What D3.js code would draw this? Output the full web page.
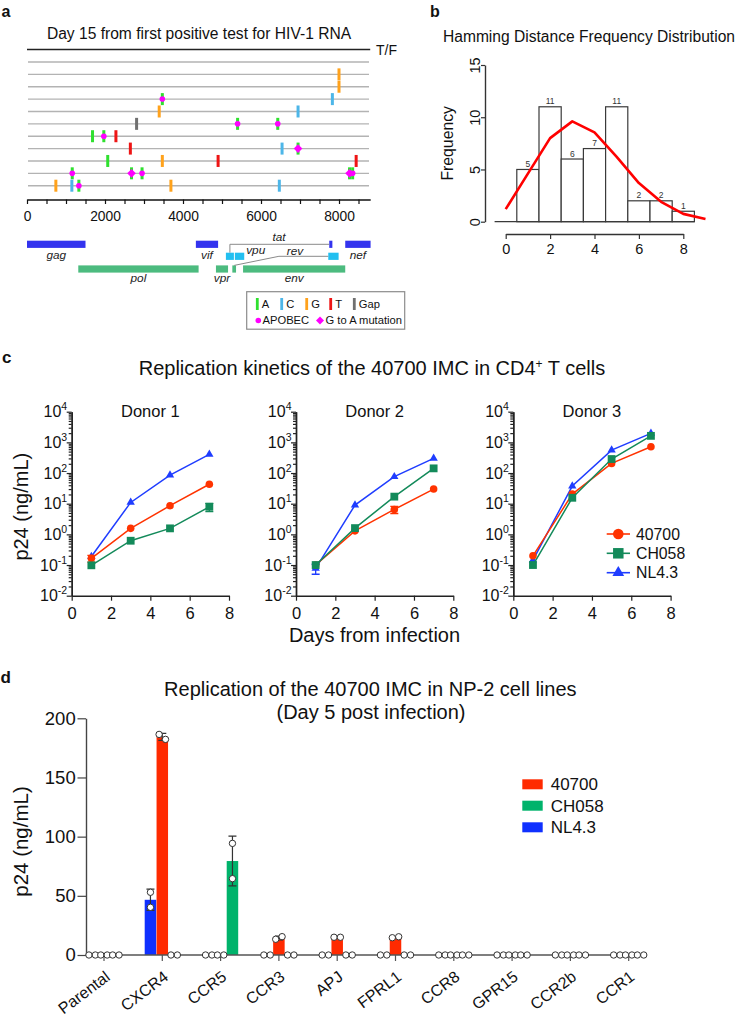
<!DOCTYPE html>
<html><head><meta charset="utf-8">
<script src="https://cdn.jsdelivr.net/npm/d3@7"></script>
<style>body{margin:0;background:#fff}svg{display:block;font-family:"Liberation Sans",Arial,Helvetica,sans-serif}</style>
</head><body><svg id="fig" width="738" height="1017"></svg>
<script>
// ===== Panel a data =====
const genomeTicks = d3.range(0, 8801, 500);
const genomeTickLabels = [0, 2000, 4000, 6000, 8000];
const sequenceRows = d3.range(0, 11);
// [row, genome position, base, extra mark]
const mutations = [
  [1, 8000, 'G', ''], [2, 8000, 'G', ''],
  [3, 3470, 'A', 'apobec'], [3, 7830, 'C', ''],
  [4, 3390, 'G', ''], [4, 6950, 'C', ''],
  [5, 2810, 'Gap', ''], [5, 5400, 'A', 'apobec'], [5, 6430, 'A', 'apobec'],
  [6, 1680, 'A', ''], [6, 1970, 'A', 'apobec'], [6, 2280, 'T', ''],
  [7, 2650, 'T', ''], [7, 6540, 'C', ''], [7, 6950, 'A', 'g2a'],
  [8, 2070, 'A', ''], [8, 3470, 'G', ''], [8, 4900, 'T', ''], [8, 8440, 'T', ''],
  [9, 1160, 'A', 'apobec'], [9, 2680, 'A', 'g2a'], [9, 2950, 'A', 'apobec'], [9, 8270, 'A', 'g2a'], [9, 8350, 'A', 'apobec'],
  [10, 740, 'G', ''], [10, 1150, 'C', ''], [10, 1330, 'A', 'apobec'], [10, 3690, 'G', ''], [10, 6470, 'C', '']
];
// [name, start, end, track, show label]
const genes = [
  ['gag', 0, 1500, 0, 1], ['vif', 4330, 4900, 0, 1], ['tat', 7750, 7830, 0, 0], ['nef', 8160, 8810, 0, 1],
  ['tat', 5100, 5305, 1, 0], ['vpu', 5330, 5570, 1, 0], ['rev', 7725, 7990, 1, 0],
  ['pol', 1315, 4400, 2, 1], ['vpr', 4845, 5155, 2, 1], ['rev', 5265, 5360, 2, 0], ['env', 5540, 8160, 2, 1]
];
// split-gene labels [name, genome position]
const splitGeneLabels = [['tat', 6460], ['vpu', 5865], ['rev', 6870]];
const legendBases = ['A', 'C', 'G', 'T', 'Gap'];

// ===== Panel b data =====
const hdBins = [1, 2, 3, 4, 5, 6, 7, 8];
const hdFreq = [5, 11, 6, 7, 11, 2, 2, 1];
const hdCurveX = [0, 1, 2, 3, 4, 5, 6, 7, 8, 9];
const hdCurveY = [1.2, 4.6, 8.0, 9.6, 8.55, 6.2, 3.7, 1.9, 0.75, 0.26];
const hdXTicks = [0, 2, 4, 6, 8];
const hdYTicks = [0, 5, 10, 15];

// ===== Panel c data =====
const days = [1, 3, 5, 7];
const kinSeries = ['40700', 'CH058', 'NL4.3'];
const donorNames = ['Donor 1', 'Donor 2', 'Donor 3'];
const d1_40700 = [0.165, 1.57, 8.6, 43];
const d1_CH058 = [0.098, 0.62, 1.57, 7.9];
const d1_NL43 = [0.19, 11, 86, 405];
const d2_40700 = [0.1, 1.3, 6.5, 30];
const d2_CH058 = [0.1, 1.6, 17, 142];
const d2_NL43 = [0.078, 9, 76, 300];
const d3_40700 = [0.2, 20.6, 206, 720];
const d3_CH058 = [0.1, 15.6, 286, 1630];
const d3_NL43 = [0.145, 37.6, 560, 1960];
const d1_40700_sd = [0.04, 0, 0, 0];
const d1_CH058_sd = [0, 0, 0, 2.4];
const d2_40700_sd = [0, 0, 1.7, 0];
const d2_NL43_sd = [0.028, 0, 0, 0];
const kinXTicks = [0, 2, 4, 6, 8];
const kinYDecades = [-2, -1, 0, 1, 2, 3, 4];

// ===== Panel d data =====
const cellLines = ['Parental', 'CXCR4', 'CCR5', 'CCR3', 'APJ', 'FPRL1', 'CCR8', 'GPR15', 'CCR2b', 'CCR1'];
const npSeriesOrder = ['NL4.3', '40700', 'CH058'];
const np_NL43 = [[0, 0], [53, 40.3], [0, 0], [0, 0], [0, 0], [0, 0], [0, 0], [0, 0], [0, 0], [0, 0]];
const np_40700 = [[0, 0], [186.4, 182.2], [0, 0], [13.3, 15.5], [15, 15], [14.6, 15.4], [0, 0], [0, 0], [0, 0], [0, 0]];
const np_CH058 = [[0, 0], [0, 0], [94.3, 64.5], [0, 0], [0, 0], [0, 0], [0, 0], [0, 0], [0, 0], [0, 0]];
const npYTicks = [0, 50, 100, 150, 200];
const npLegend = ['40700', 'CH058', 'NL4.3'];

// ===== styles =====
const baseColor = {A: '#2fe02f', C: '#4db6e8', G: '#ffa21c', T: '#ee1515', Gap: '#707070'};
const trackColor = ['#3333ee', '#22bff0', '#4cbb7f'];
const kinColor = {'40700': '#ff3300', 'CH058': '#138a5a', 'NL4.3': '#1f3dff'};
const npColor = {'40700': '#ff2a00', 'CH058': '#00b36b', 'NL4.3': '#0f30ff'};
const MAG = '#ff00ff';

const svg = d3.select('#fig');
function txt(g, x, y, s, size, opts = {}) {
  const t = g.append('text').attr('x', x).attr('y', y).attr('font-size', size).text(s);
  if (opts.anchor) t.attr('text-anchor', opts.anchor);
  if (opts.weight) t.attr('font-weight', opts.weight);
  if (opts.style) t.attr('font-style', opts.style);
  t.attr('fill', opts.fill || '#111');
  return t;
}
function styleAxis(g, size, color) {
  g.selectAll('text').attr('font-size', size).attr('fill', '#111').attr('font-family', null);
  g.attr('font-family', null);
  g.selectAll('path.domain').attr('stroke', color || '#111').attr('stroke-width', 1.4);
  g.selectAll('.tick line').attr('stroke', color || '#111').attr('stroke-width', 1.2);
}

// panel labels
txt(svg, 1.5, 16.7, 'a', 16, {weight: 'bold'});
txt(svg, 430, 16.7, 'b', 16, {weight: 'bold'});
txt(svg, 2, 363.3, 'c', 17, {weight: 'bold'});
txt(svg, 0.5, 683.3, 'd', 17, {weight: 'bold'});

// ===================== Panel a =====================
{
  const g = svg.append('g');
  const x = d3.scaleLinear().domain([0, 8800]).range([27, 370.2]);
  const y = d3.scaleLinear().domain([0, 10]).range([62, 185.7]);
  txt(g, 199, 39, 'Day 15 from first positive test for HIV-1 RNA', 15.6, {anchor: 'middle'});
  g.append('line').attr('x1', x(0)).attr('x2', x(8800)).attr('y1', 49.5).attr('y2', 49.5).attr('stroke', '#222').attr('stroke-width', 1.7);
  txt(g, 376, 55, 'T/F', 14);
  g.selectAll('line.seq').data(sequenceRows).join('line').attr('class', 'seq')
    .attr('x1', 28).attr('x2', 369).attr('y1', d => y(d)).attr('y2', d => y(d))
    .attr('stroke', '#b3b3b3').attr('stroke-width', 1.4);
  g.selectAll('rect.mut').data(mutations).join('rect').attr('class', 'mut')
    .attr('x', d => x(d[1]) - 1.5).attr('width', 3).attr('y', d => y(d[0]) - 6).attr('height', 12)
    .attr('fill', d => baseColor[d[2]]);
  g.selectAll('circle.apo').data(mutations.filter(d => d[3] === 'apobec')).join('circle').attr('class', 'apo')
    .attr('cx', d => x(d[1])).attr('cy', d => y(d[0])).attr('r', 2.8).attr('fill', MAG);
  g.selectAll('path.g2a').data(mutations.filter(d => d[3] === 'g2a')).join('path').attr('class', 'g2a')
    .attr('transform', d => `translate(${x(d[1])},${y(d[0])})`).attr('d', 'M0,-4.3L4.3,0L0,4.3L-4.3,0Z').attr('fill', MAG);
  const ax = g.append('g').attr('transform', 'translate(0,199.5)')
    .call(d3.axisBottom(x).tickValues(genomeTicks).tickSize(4.5).tickSizeOuter(0).tickPadding(7.5)
      .tickFormat(d => genomeTickLabels.includes(d) ? d : ''));
  styleAxis(ax, 13.8);
  ax.select('path.domain').attr('stroke-width', 1.7);
  // genes
  const trackY = [244.3, 256.3, 269];
  g.selectAll('rect.gene').data(genes).join('rect').attr('class', 'gene')
    .attr('x', d => x(d[1])).attr('width', d => x(d[2]) - x(d[1]))
    .attr('y', d => trackY[d[3]] - 3.6).attr('height', 7.2).attr('fill', d => trackColor[d[3]]);
  const labBase = [258.5, 0, 281.5];
  genes.filter(d => d[4]).forEach(d => {
    txt(g, x((d[1] + d[2]) / 2), labBase[d[3]], d[0], 11.8, {anchor: 'middle', style: 'italic', fill: '#222'});
  });
  const splitBase = {tat: 241, vpu: 254, rev: 254.5};
  splitGeneLabels.forEach(d => txt(g, x(d[1]), splitBase[d[0]], d[0], 11.8, {anchor: 'middle', style: 'italic', fill: '#222'}));
  const tat = genes.filter(d => d[0] === 'tat');
  const rev = genes.filter(d => d[0] === 'rev');
  g.append('path').attr('d', `M${x((tat[1][1] + tat[1][2]) / 2)},${trackY[1] - 3.6}V${trackY[0]}H${x(tat[0][1])}`)
    .attr('fill', 'none').attr('stroke', '#8a8a8a').attr('stroke-width', 1);
  g.append('path').attr('d', `M${x((rev[1][1] + rev[1][2]) / 2)},${trackY[2] - 3.6}L${x(6460)},${trackY[1]}H${x(rev[0][1])}`)
    .attr('fill', 'none').attr('stroke', '#8a8a8a').attr('stroke-width', 1);
  // legend
  g.append('rect').attr('x', 246.7).attr('y', 291.7).attr('width', 158).attr('height', 37.5)
    .attr('fill', 'none').attr('stroke', '#8c8c8c').attr('stroke-width', 1.2);
  const lx = [257.3, 281.7, 306.7, 330.7, 354.3];
  legendBases.forEach((b, i) => {
    g.append('rect').attr('x', lx[i] - 1.4).attr('y', 298).attr('width', 2.8).attr('height', 12).attr('fill', baseColor[b]);
    txt(g, lx[i] + 4.5, 308, b, 11.2, {});
  });
  g.append('circle').attr('cx', 258.3).attr('cy', 320.5).attr('r', 2.8).attr('fill', MAG);
  txt(g, 262.5, 324.3, 'APOBEC', 11.2, {});
  g.append('path').attr('transform', 'translate(320,320.5)').attr('d', 'M0,-4L4,0L0,4L-4,0Z').attr('fill', MAG);
  txt(g, 325.5, 324.3, 'G to A mutation', 11.2, {});
}

// ===================== Panel b =====================
{
  const g = svg.append('g');
  const x = d3.scaleLinear().domain([0, 8]).range([505.7, 683.3]);
  const y = d3.scaleLinear().domain([0, 15]).range([221.7, 65]);
  txt(g, 589, 42, 'Hamming Distance Frequency Distribution', 15.6, {anchor: 'middle'});
  g.selectAll('rect.bar').data(hdBins).join('rect').attr('class', 'bar')
    .attr('x', d => x(d - 0.5)).attr('width', d => x(d + 0.5) - x(d - 0.5))
    .attr('y', (d, i) => y(hdFreq[i])).attr('height', (d, i) => y(0) - y(hdFreq[i]))
    .attr('fill', '#fff').attr('stroke', '#3a3a3a').attr('stroke-width', 1.2);
  g.append('line').attr('x1', x(-0.5)).attr('x2', x(8.5)).attr('y1', y(0)).attr('y2', y(0)).attr('stroke', '#3a3a3a').attr('stroke-width', 1.2);
  hdBins.forEach((d, i) => txt(g, x(d), y(hdFreq[i]) - 2.5, hdFreq[i], 8.5, {anchor: 'middle', fill: '#333'}));
  g.append('path').datum(hdCurveX.map((d, i) => [d, hdCurveY[i]]))
    .attr('d', d3.line().x(d => x(d[0])).y(d => y(d[1])))
    .attr('fill', 'none').attr('stroke', '#ff0000').attr('stroke-width', 2.6).attr('stroke-linejoin', 'round');
  const ax = g.append('g').attr('transform', 'translate(0,234)')
    .call(d3.axisBottom(x).tickValues(hdXTicks).tickSize(5).tickSizeOuter(0).tickPadding(4.8));
  styleAxis(ax, 14.5, '#333');
  const ay = g.append('g').attr('transform', 'translate(485,0)')
    .call(d3.axisLeft(y).tickValues(hdYTicks).tickSize(4).tickSizeOuter(0));
  styleAxis(ay, 14.5, '#333');
  ay.selectAll('text').attr('transform', 'rotate(-90)').attr('x', 0).attr('y', -5.5).attr('dy', null).attr('text-anchor', 'middle');
  g.append('text').attr('transform', 'translate(452.5,143.3) rotate(-90)').attr('text-anchor', 'middle')
    .attr('font-size', 15.8).attr('fill', '#111').text('Frequency');
}

// ===================== Panel c =====================
{
  const g = svg.append('g');
  const title = g.append('text').attr('x', 372).attr('y', 374.5).attr('text-anchor', 'middle').attr('font-size', 20).attr('fill', '#111');
  title.append('tspan').text('Replication kinetics of the 40700 IMC in CD4');
  title.append('tspan').attr('font-size', 12).attr('dy', -7).text('+');
  title.append('tspan').attr('dy', 7).text(' T cells');
  txt(g, 374.5, 642, 'Days from infection', 20, {anchor: 'middle'});
  g.append('text').attr('transform', 'translate(27.5,506.7) rotate(-90)').attr('text-anchor', 'middle')
    .attr('font-size', 20).attr('fill', '#111').text('p24 (ng/mL)');
  const origins = [71.7, 296, 513.3];
  const donorData = [
    {'40700': d1_40700, 'CH058': d1_CH058, 'NL4.3': d1_NL43},
    {'40700': d2_40700, 'CH058': d2_CH058, 'NL4.3': d2_NL43},
    {'40700': d3_40700, 'CH058': d3_CH058, 'NL4.3': d3_NL43}
  ];
  const donorSd = [
    {'40700': d1_40700_sd, 'CH058': d1_CH058_sd},
    {'40700': d2_40700_sd, 'NL4.3': d2_NL43_sd},
    {}
  ];
  const y = d3.scaleLog().domain([1e-2, 1e4]).range([595.7, 411.7]);
  const majors = kinYDecades.map(k => Math.pow(10, k));
  const minors = [];
  kinYDecades.slice(0, -1).forEach(k => d3.range(2, 10).forEach(m => minors.push(m * Math.pow(10, k))));
  const markerPath = (s, big) => {
    if (s === '40700') return d3.symbol(d3.symbolCircle, big ? 88 : 45)();
    if (s === 'CH058') return d3.symbol(d3.symbolSquare, big ? 110 : 61)();
    return d3.symbol(d3.symbolTriangle, big ? 60 : 30)();
  };
  origins.forEach((ox, di) => {
    const x = d3.scaleLinear().domain([0, 8]).range([ox, ox + 157.3]);
    const pg = g.append('g');
    txt(pg, x(4), 417.3, donorNames[di], 16.5, {anchor: 'middle'});
    const ay2 = pg.append('g').attr('transform', `translate(${ox},0)`)
      .call(d3.axisLeft(y).tickValues(minors).tickSize(3).tickSizeOuter(0).tickFormat(''));
    styleAxis(ay2, 12, '#222');
    const ay = pg.append('g').attr('transform', `translate(${ox},0)`)
      .call(d3.axisLeft(y).tickValues(majors).tickSize(5).tickSizeOuter(0).tickFormat(''));
    styleAxis(ay, 12, '#222');
    kinYDecades.forEach(k => {
      const t = pg.append('text').attr('x', ox - 4.5).attr('y', y(Math.pow(10, k)) + 5.5)
        .attr('text-anchor', 'end').attr('font-size', 16).attr('fill', '#111');
      t.append('tspan').text('10');
      t.append('tspan').attr('font-size', 10.5).attr('dy', -7).text(k < 0 ? '-' + (-k) : k);
    });
    const axx = pg.append('g').attr('transform', 'translate(0,595.7)')
      .call(d3.axisBottom(x).tickValues(kinXTicks).tickSize(5).tickSizeOuter(0).tickPadding(6.2));
    styleAxis(axx, 16.5, '#222');
    ['NL4.3', '40700', 'CH058'].forEach(s => {
      const vals = donorData[di][s];
      const sd = donorSd[di][s];
      const col = kinColor[s];
      if (sd) {
        days.forEach((d, i) => {
          if (!sd[i]) return;
          const lo = y(Math.max(vals[i] - sd[i], 1e-2)), hi = y(vals[i] + sd[i]);
          pg.append('path').attr('d', `M${x(d)},${hi}V${lo}M${x(d) - 4},${hi}H${x(d) + 4}M${x(d) - 4},${lo}H${x(d) + 4}`)
            .attr('stroke', col).attr('stroke-width', 1.3).attr('fill', 'none');
        });
      }
      pg.append('path').datum(vals).attr('d', d3.line().x((v, i) => x(days[i])).y(v => y(v)))
        .attr('fill', 'none').attr('stroke', col).attr('stroke-width', 1.5);
      pg.selectAll(null).data(vals).join('path')
        .attr('transform', (v, i) => `translate(${x(days[i])},${y(v)})`)
        .attr('d', markerPath(s, false)).attr('fill', col);
    });
  });
  // legend
  const ly = [534, 553.3, 572.7];
  kinSeries.forEach((s, i) => {
    g.append('line').attr('x1', 606.7).attr('x2', 630).attr('y1', ly[i]).attr('y2', ly[i]).attr('stroke', kinColor[s]).attr('stroke-width', 1.6);
    g.append('path').attr('transform', `translate(618.3,${ly[i]})`).attr('d', markerPath(s, true)).attr('fill', kinColor[s]);
    txt(g, 636, ly[i] + 5.6, s, 15.8, {});
  });
}

// ===================== Panel d =====================
{
  const g = svg.append('g');
  txt(g, 370.3, 695.7, 'Replication of the 40700 IMC in NP-2 cell lines', 20, {anchor: 'middle'});
  txt(g, 371, 719.3, '(Day 5 post infection)', 20, {anchor: 'middle'});
  g.append('text').attr('transform', 'translate(27.5,841.5) rotate(-90)').attr('text-anchor', 'middle')
    .attr('font-size', 20.5).attr('fill', '#111').text('p24 (ng/mL)');
  const x = d3.scalePoint().domain(cellLines).range([104, 628.7]);
  const sub = d3.scaleBand().domain(npSeriesOrder).range([-17.6, 17.6]).paddingInner(0.03);
  const y = d3.scaleLinear().domain([0, 200]).range([955, 718.3]);
  const seriesData = {'NL4.3': np_NL43, '40700': np_40700, 'CH058': np_CH058};
  // bars
  npSeriesOrder.forEach(s => {
    g.selectAll(null).data(seriesData[s].map((r, i) => ({c: cellLines[i], m: d3.mean(r)}))).join('rect')
      .attr('x', d => x(d.c) + sub(s)).attr('width', sub.bandwidth())
      .attr('y', d => y(d.m)).attr('height', d => y(0) - y(d.m)).attr('fill', npColor[s]);
  });
  // axes
  const ay = g.append('g').attr('transform', 'translate(86,0)')
    .call(d3.axisLeft(y).tickValues(npYTicks).tickSize(8.5).tickSizeOuter(0).tickPadding(1.8));
  styleAxis(ay, 18.5, '#444');
  g.append('line').attr('x1', 86).attr('x2', 645).attr('y1', 955).attr('y2', 955).attr('stroke', '#555').attr('stroke-width', 1.3);
  g.selectAll('line.ct').data(cellLines).join('line').attr('class', 'ct')
    .attr('x1', d => x(d)).attr('x2', d => x(d)).attr('y1', 955).attr('y2', 961).attr('stroke', '#555').attr('stroke-width', 1.2);
  cellLines.forEach(c => {
    g.append('text').attr('transform', `translate(${x(c) + 7},979) rotate(-37)`).attr('text-anchor', 'end')
      .attr('font-size', 16).attr('fill', '#111').text(c);
  });
  // error bars + points
  npSeriesOrder.forEach(s => {
    seriesData[s].forEach((r, i) => {
      const cx = x(cellLines[i]) + sub(s) + sub.bandwidth() / 2;
      const m = d3.mean(r), sd = d3.deviation(r) || 0;
      if (m > 0) {
        g.append('path').attr('d', `M${cx},${y(m - sd)}V${y(m + sd)}M${cx - 4},${y(m + sd)}H${cx + 4}M${cx - 4},${y(m - sd)}H${cx + 4}`)
          .attr('stroke', '#333').attr('stroke-width', 1.2).attr('fill', 'none');
      }
      const spread = Math.abs(r[0] - r[1]) < 6 ? 3.2 : 0;
      r.forEach((v, k) => {
        g.append('circle').attr('cx', cx + (k === 0 ? -spread : spread)).attr('cy', y(v)).attr('r', 3.2)
          .attr('fill', '#fff').attr('stroke', '#333').attr('stroke-width', 1);
      });
    });
  });
  // legend
  const ly = [784.3, 805.7, 827.3];
  npLegend.forEach((s, i) => {
    g.append('rect').attr('x', 522.3).attr('y', ly[i] - 5).attr('width', 20.4).attr('height', 10).attr('fill', npColor[s]);
    txt(g, 550.7, ly[i] + 6, s, 17, {});
  });
}
</script></body></html>
